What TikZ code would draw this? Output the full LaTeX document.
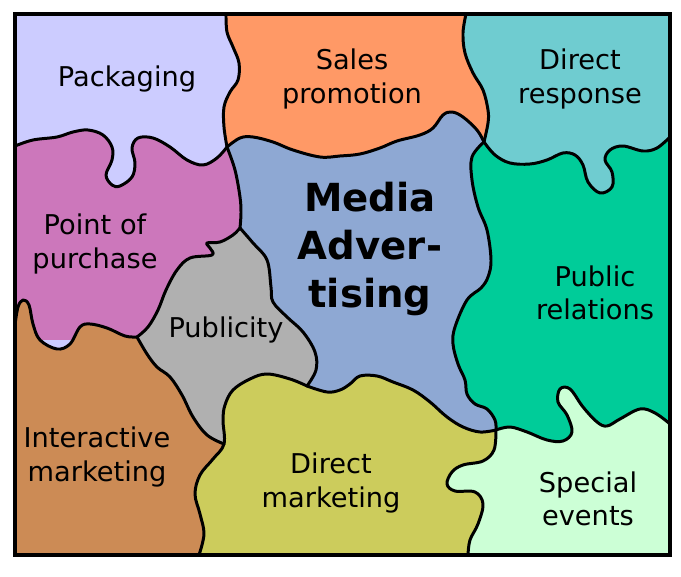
\documentclass[tikz,border=0pt]{standalone}
\usepackage{fontspec}
\setmainfont{DejaVu Sans}
\definecolor{packagingcol}{HTML}{CCCCFF}
\definecolor{salescol}{HTML}{FF9966}
\definecolor{responsecol}{HTML}{6FCCD0}
\definecolor{purchasecol}{HTML}{CC77BB}
\definecolor{mediacol}{HTML}{8EA8D3}
\definecolor{publiccol}{HTML}{00CC99}
\definecolor{publicitycol}{HTML}{B0B0B0}
\definecolor{interactivecol}{HTML}{CC8B55}
\definecolor{directcol}{HTML}{CCCC5C}
\definecolor{specialcol}{HTML}{CCFFD6}
\def\seamA{(226,14) (227,32) (233,47) (239,63) (238,80) (230,92) (224,107) (224,127) (227,147)}
\def\seamB{(15,146) (33,140) (57,137) (73,132) (88,130) (103,135) (112,147) (112,160) (106,175) (112,185) (120,186) (132,177) (135,163) (132,148) (138,138) (153,138) (170,147) (187,160) (203,165) (217,158) (227,147)}
\def\seamC{(227,147) (240,138) (253,137) (273,142) (293,150) (320,157) (340,156) (360,154) (380,148) (397,141) (420,135) (433,128) (443,115) (452,112) (463,117) (477,130) (484,142)}
\def\seamD{(466,14) (463,33) (465,53) (473,73) (483,90) (488,110) (488,123) (484,142)}
\def\seamE{(484,142) (495,155) (510,163) (530,164) (547,160) (563,153) (575,155) (583,165) (588,182) (600,193) (612,187) (612,172) (605,160) (610,150) (623,146) (643,151) (657,148) (670,137)}
\def\seamF{(484,142) (472,157) (472,180) (478,207) (487,230) (491,260) (488,277) (481,288) (467,300) (455,327) (453,344) (458,364) (465,380) (467,394) (475,404) (487,409) (495,420) (496,430)}
\def\seamG{(496,430) (510,427) (527,432) (547,440) (563,441) (572,432) (567,415) (558,402) (560,389) (570,389) (583,407) (597,422) (607,426) (620,419) (640,409) (655,413) (670,424)}
\def\seamH{(496,430) (480,432) (463,427) (447,417) (430,402) (413,390) (393,382) (377,376) (360,376) (350,384) (340,390) (327,392) (307,386)}
\def\seamI{(496,430) (494,450) (483,461) (463,465) (452,472) (447,484) (455,491) (475,492) (483,504) (478,524) (470,540) (468,555)}
\def\seamJ{(307,386) (290,379) (267,374) (250,379) (233,390) (225,405) (223,420) (224,444) (213,459) (200,475) (195,494) (200,514) (204,534) (199,555)}
\def\seamK{(137,337) (147,354) (157,367) (170,377) (182,395) (193,417) (207,435) (224,444)}
\def\seamL{(15,325) (18,307) (23,300) (29,305) (33,324) (40,340) (57,349) (70,344) (80,327) (90,324) (107,328) (125,336) (137,337)}
\def\seamM{(137,337) (148,327) (158,310) (166,290) (177,270) (190,258) (212,255) (210,248) (207,243) (220,242) (233,235) (240,228)}
\def\seamN{(240,228) (241,213) (240,197) (235,170) (227,147)}
\def\seamO{(240,228) (253,243) (267,260) (271,287) (273,302) (287,317) (303,332) (315,352) (316,370) (307,386)}
\tikzset{
	seam/.style={smooth, tension=0.6},
	edge line/.style={line width=1.7pt, line join=round, line cap=round},
	tag/.style={align=center, font=\fontsize{15.5}{19}\selectfont, inner sep=0pt},
	big tag/.style={align=center, font=\fontsize{22}{27.5}\selectfont\bfseries, inner sep=0pt}
}
\begin{document}
\begin{tikzpicture}[x=0.02cm, y=-0.02cm]
	\useasboundingbox (0, 0) rectangle (681, 577);
	
	%%%%% FILLS, back to front %%%%%
	\fill[packagingcol] (15, 14) rectangle (670, 555);
	\fill[salescol] plot[seam] coordinates {\seamA} -- (300, 200) -- (500, 200) -- (500, 14) -- cycle;
	\fill[purchasecol] plot[seam] coordinates {\seamB} -- (260, 147) -- (260, 340) -- (15, 340) -- cycle;
	\fill[mediacol] plot[seam] coordinates {\seamN} -- plot[seam] coordinates {\seamC} -- (520, 200) -- (520, 440) -- (300, 440) -- cycle;
	\fill[publicitycol] plot[seam] coordinates {\seamM} -- plot[seam] coordinates {\seamO} -- (300, 450) -- (224, 450) -- (130, 450) -- (130, 345) -- cycle;
	\fill[interactivecol] plot[seam] coordinates {\seamL} -- plot[seam] coordinates {\seamK} -- (240, 555) -- (15, 555) -- cycle;
	\fill[directcol] plot[seam] coordinates {\seamH} -- plot[seam] coordinates {\seamJ} -- (500, 555) -- cycle;
	\fill[specialcol] plot[seam] coordinates {\seamI} -- (670, 555) -- (670, 380) -- (500, 380) -- cycle;
	\fill[publiccol] plot[seam] coordinates {\seamF} -- plot[seam] coordinates {\seamG} -- (670, 120) -- (500, 120) -- cycle;
	\fill[responsecol] plot[seam] coordinates {\seamD} -- plot[seam] coordinates {\seamE} -- (670, 14) -- cycle;
	
	%%%%% OUTLINES %%%%%
	\foreach \seamlist in {\seamA, \seamB, \seamC, \seamD, \seamE, \seamF, \seamG, \seamH, \seamI, \seamJ, \seamK, \seamL, \seamM, \seamN, \seamO}
		\draw[edge line] plot[seam] coordinates {\seamlist};
	\draw[line width=1.9pt] (15, 14) rectangle (670, 555);
	
	%%%%% LABELS %%%%%
	\node[tag] (packaging) at (127, 79) {Packaging};
	\node[tag] (sales) at (352, 79) {Sales\\promotion};
	\node[tag] (response) at (580, 79) {Direct\\response};
	\node[tag] (purchase) at (95, 244) {Point of\\purchase};
	\node[tag] (publicity) at (226, 330) {Publicity};
	\node[tag] (relations) at (595, 293) {Public\\relations};
	\node[tag] (interactive) at (97, 457) {Interactive\\marketing};
	\node[tag] (direct) at (331, 483) {Direct\\marketing};
	\node[tag] (special) at (588, 499) {Special\\events};
	\node[big tag] (media) at (370, 249) {Media\\Adver-\\tising};
\end{tikzpicture}
\end{document}
